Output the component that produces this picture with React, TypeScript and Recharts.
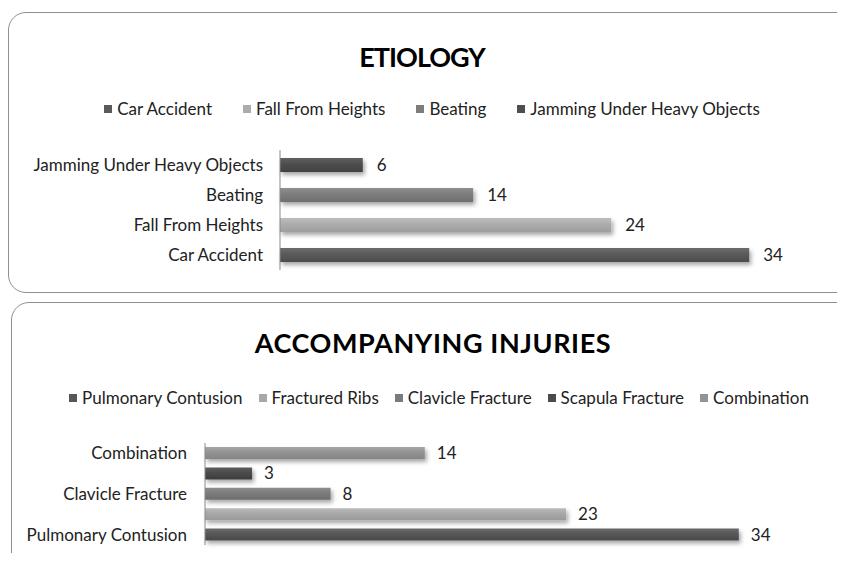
import { BarChart, Bar, XAxis, YAxis, Cell, LabelList } from "recharts";

// ETIOLOGY
const etiologyNames = ["Car Accident", "Fall From Heights", "Beating", "Jamming Under Heavy Objects"];
const etiologyValues = [34, 24, 14, 6];
const etiologyColors = ["#5a5a5a", "#acacac", "#7d7d7d", "#4e4e4e"];

// ACCOMPANYING INJURIES
const injuryNames = ["Pulmonary Contusion", "Fractured Ribs", "Clavicle Fracture", "Scapula Fracture", "Combination"];
const injuryValues = [34, 23, 8, 3, 14];
const injuryColors = ["#575757", "#a8a8a8", "#7b7b7b", "#4b4b4b", "#939393"];

const etiologyData = etiologyNames.map((name, i) => ({ name, value: etiologyValues[i] }));
const injuryData = injuryNames.map((name, i) => ({ name, value: injuryValues[i] }));

const labelFont = "Lato, 'Open Sans', sans-serif";

function shade(hex: string, amt: number) {
  const n = parseInt(hex.slice(1), 16);
  const c = (v: number) => Math.max(0, Math.min(255, Math.round(v + amt)));
  const r = c((n >> 16) & 255), g = c((n >> 8) & 255), b = c(n & 255);
  return `rgb(${r},${g},${b})`;
}

function Defs({ prefix, colors }: { prefix: string; colors: string[] }) {
  return (
    <defs>
      <filter id={`${prefix}-sh`} x="-5%" y="-60%" width="115%" height="260%">
        <feDropShadow dx="2" dy="3" stdDeviation="2" floodColor="#000" floodOpacity="0.35" />
      </filter>
      {colors.map((c, i) => (
        <linearGradient key={i} id={`${prefix}-g${i}`} x1="0" y1="0" x2="0" y2="1">
          <stop offset="0%" stopColor={shade(c, 18)} />
          <stop offset="45%" stopColor={c} />
          <stop offset="100%" stopColor={shade(c, -14)} />
        </linearGradient>
      ))}
    </defs>
  );
}

function LegendRow({ names, colors, top, center, gap }: { names: string[]; colors: string[]; top: number; center: number; gap: number }) {
  return (
    <div
      style={{
        position: "absolute", top, left: 0, width: center * 2, display: "flex", justifyContent: "center",
        gap, fontFamily: labelFont, fontSize: 17, lineHeight: "20px", color: "#222", whiteSpace: "nowrap",
      }}
    >
      {names.map((n, i) => (
        <div key={n} style={{ display: "flex", alignItems: "center" }}>
          <span style={{ width: 8, height: 8, background: colors[i], marginRight: 5, display: "inline-block" }} />
          {n}
        </div>
      ))}
    </div>
  );
}

const panel = {
  position: "absolute" as const, width: 850, border: "1.5px solid #8f8f8f", borderRadius: 18, boxSizing: "border-box" as const,
};

const titleStyle = {
  position: "absolute" as const, left: 0, fontFamily: labelFont, fontWeight: 700, fontSize: 27, lineHeight: "28px",
  color: "#000", textAlign: "center" as const, whiteSpace: "nowrap" as const,
};

const tickStyle = { fontFamily: labelFont, fontSize: 17, fill: "#222" };

export default function App() {
  return (
    <div style={{ position: "relative", width: 845, height: 561, margin: -8, overflow: "hidden", background: "#fff" }}>
      <div style={{ ...panel, left: 8, top: 12, height: 281 }} />
      <div style={{ ...panel, left: 11, top: 302, height: 275 }} />

      <div style={{ ...titleStyle, top: 43, width: 844, letterSpacing: -1 }}>ETIOLOGY</div>
      <LegendRow names={etiologyNames} colors={etiologyColors} top={99} center={432} gap={31} />

      <div style={{ ...titleStyle, top: 329, width: 866, letterSpacing: 0.6 }}>ACCOMPANYING INJURIES</div>
      <LegendRow names={injuryNames} colors={injuryColors} top={388} center={439} gap={16} />

      <div style={{ position: "absolute", left: 0, top: 0 }}>
        <BarChart width={845} height={290} data={etiologyData} layout="vertical" margin={{ top: 150, right: 13, bottom: 20, left: 0 }}>
          <Defs prefix="et" colors={etiologyColors} />
          <XAxis type="number" domain={[0, 40]} hide />
          <YAxis
            type="category" dataKey="name" reversed width={280} tickLine={false} tickSize={0} tickMargin={17}
            axisLine={{ stroke: "#8a8a8a" }} tick={tickStyle} interval={0}
          />
          <Bar dataKey="value" barSize={14} isAnimationActive={false}>
            {etiologyData.map((d, i) => (
              <Cell key={d.name} fill={`url(#et-g${i})`} filter="url(#et-sh)" />
            ))}
            <LabelList dataKey="value" position="right" offset={14} style={tickStyle} />
          </Bar>
        </BarChart>
      </div>

      <div style={{ position: "absolute", left: 0, top: 300 }}>
        <BarChart width={845} height={255} data={injuryData} layout="vertical" margin={{ top: 143, right: 12, bottom: 10, left: 0 }}>
          <Defs prefix="in" colors={injuryColors} />
          <XAxis type="number" domain={[0, 40]} hide />
          <YAxis
            type="category" dataKey="name" reversed width={205} tickLine={false} tickSize={0} tickMargin={18}
            axisLine={{ stroke: "#8a8a8a" }} tick={tickStyle} interval={1}
          />
          <Bar dataKey="value" barSize={12} isAnimationActive={false}>
            {injuryData.map((d, i) => (
              <Cell key={d.name} fill={`url(#in-g${i})`} filter="url(#in-sh)" />
            ))}
            <LabelList dataKey="value" position="right" offset={12} style={tickStyle} />
          </Bar>
        </BarChart>
      </div>
    </div>
  );
}
